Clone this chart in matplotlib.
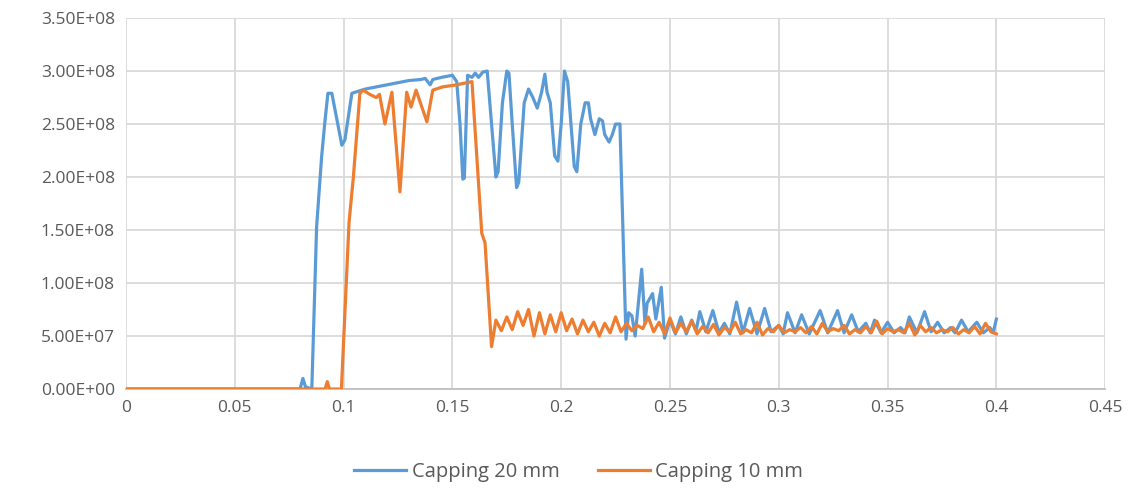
import numpy as np
import matplotlib
matplotlib.use("Agg")
import matplotlib.pyplot as plt
from matplotlib.ticker import FuncFormatter, MultipleLocator

# time (s) and force values (x 1e7) for the two capping thicknesses
t_20mm = [
    0.0000, 0.0800, 0.0813, 0.0825, 0.0854, 0.0876, 0.0899, 0.0914, 0.0928, 0.0946,
    0.0992, 0.1006, 0.1038, 0.1100, 0.1150, 0.1200, 0.1250, 0.1300, 0.1355, 0.1375,
    0.1398, 0.1410, 0.1450, 0.1500, 0.1520, 0.1535, 0.1548, 0.1555, 0.1570, 0.1590,
    0.1605, 0.1620, 0.1640, 0.1660, 0.1680, 0.1700, 0.1710, 0.1730, 0.1750, 0.1760,
    0.1775, 0.1795, 0.1805, 0.1830, 0.1850, 0.1870, 0.1890, 0.1910, 0.1925, 0.1935,
    0.1950, 0.1970, 0.1985, 0.2000, 0.2015, 0.2030, 0.2060, 0.2072, 0.2090, 0.2110,
    0.2125, 0.2135, 0.2155, 0.2175, 0.2190, 0.2200, 0.2220, 0.2235, 0.2250, 0.2270,
    0.2298, 0.2310, 0.2325, 0.2340, 0.2370, 0.2385, 0.2395, 0.2420, 0.2435, 0.2460,
    0.2475, 0.2500, 0.2525, 0.2550, 0.2575, 0.2600, 0.2620, 0.2637, 0.2665, 0.2697,
    0.2725, 0.2750, 0.2775, 0.2806, 0.2835, 0.2866, 0.2900, 0.2935, 0.2965, 0.3000,
    0.3020, 0.3040, 0.3075, 0.3105, 0.3140, 0.3190, 0.3225, 0.3270, 0.3300, 0.3335,
    0.3365, 0.3400, 0.3420, 0.3440, 0.3470, 0.3500, 0.3530, 0.3560, 0.3580, 0.3600,
    0.3635, 0.3670, 0.3700, 0.3730, 0.3760, 0.3790, 0.3810, 0.3840, 0.3870, 0.3910,
    0.3940, 0.3970, 0.3985, 0.4000,
]
f_20mm = [
    0.0, 0.0, 1.0, 0.2, 0.0, 15.3, 21.9, 25.2, 27.9, 27.9,
    23.0, 23.5, 27.9, 28.3, 28.5, 28.7, 28.9, 29.1, 29.2, 29.3,
    28.7, 29.2, 29.4, 29.6, 29.0, 25.0, 19.8, 19.9, 29.6, 29.4,
    29.8, 29.4, 29.9, 30.0, 25.0, 20.0, 20.5, 27.0, 30.0, 29.8,
    25.0, 19.0, 19.5, 27.0, 28.3, 27.5, 26.5, 28.0, 29.7, 28.0,
    27.0, 22.0, 21.5, 25.0, 30.0, 29.0, 21.0, 20.5, 25.0, 27.0,
    27.0, 25.5, 24.0, 25.5, 25.3, 24.0, 23.3, 24.0, 25.0, 25.0,
    4.7, 7.2, 6.9, 5.0, 11.3, 6.2, 8.1, 9.0, 6.6, 9.6,
    4.8, 6.5, 5.2, 6.8, 5.2, 6.5, 5.5, 7.3, 5.4, 7.4,
    5.3, 6.2, 5.2, 8.2, 5.3, 7.6, 5.2, 7.6, 5.4, 6.0,
    5.2, 7.2, 5.3, 7.0, 5.2, 7.4, 5.3, 7.4, 5.3, 7.0,
    5.4, 6.2, 5.3, 6.5, 5.3, 6.3, 5.3, 5.8, 5.3, 6.8,
    5.3, 7.3, 5.4, 6.3, 5.3, 5.8, 5.3, 6.5, 5.4, 6.3,
    5.3, 5.8, 5.3, 6.6,
]

t_10mm = [
    0.0000, 0.0915, 0.0925, 0.0935, 0.0990, 0.1025, 0.1045, 0.1075, 0.1090, 0.1120,
    0.1150, 0.1165, 0.1190, 0.1222, 0.1259, 0.1290, 0.1310, 0.1333, 0.1383, 0.1410,
    0.1455, 0.1520, 0.1590, 0.1635, 0.1650, 0.1680, 0.1700, 0.1725, 0.1750, 0.1775,
    0.1800, 0.1825, 0.1850, 0.1875, 0.1900, 0.1925, 0.1950, 0.1975, 0.2000, 0.2025,
    0.2050, 0.2075, 0.2100, 0.2125, 0.2150, 0.2175, 0.2200, 0.2225, 0.2250, 0.2275,
    0.2300, 0.2325, 0.2350, 0.2375, 0.2400, 0.2425, 0.2450, 0.2475, 0.2500, 0.2525,
    0.2550, 0.2575, 0.2600, 0.2625, 0.2650, 0.2675, 0.2700, 0.2725, 0.2750, 0.2775,
    0.2800, 0.2825, 0.2850, 0.2875, 0.2900, 0.2925, 0.2950, 0.2975, 0.3000, 0.3025,
    0.3050, 0.3075, 0.3100, 0.3125, 0.3150, 0.3175, 0.3200, 0.3225, 0.3250, 0.3275,
    0.3300, 0.3325, 0.3350, 0.3375, 0.3400, 0.3425, 0.3450, 0.3475, 0.3500, 0.3525,
    0.3550, 0.3575, 0.3600, 0.3625, 0.3650, 0.3675, 0.3700, 0.3725, 0.3750, 0.3775,
    0.3800, 0.3825, 0.3850, 0.3875, 0.3900, 0.3925, 0.3950, 0.3975, 0.4000,
]
f_10mm = [
    0.0, 0.0, 0.7, 0.0, 0.0, 15.7, 20.0, 27.9, 28.2, 27.8,
    27.5, 27.8, 25.0, 28.0, 18.6, 28.0, 26.6, 28.2, 25.2, 28.2,
    28.5, 28.7, 29.0, 14.7, 13.8, 4.0, 6.5, 5.5, 6.8, 5.6,
    7.3, 6.0, 7.5, 5.0, 7.2, 5.2, 7.0, 5.4, 7.2, 5.5,
    6.6, 5.2, 6.5, 5.4, 6.3, 5.0, 6.2, 5.3, 6.8, 5.4,
    6.2, 5.5, 6.0, 5.7, 6.8, 5.4, 6.3, 5.2, 6.7, 5.3,
    6.2, 5.4, 6.4, 5.2, 5.9, 5.3, 6.1, 5.1, 5.8, 5.4,
    6.3, 5.2, 5.6, 5.3, 6.3, 5.1, 5.7, 5.4, 6.0, 5.3,
    5.6, 5.4, 5.8, 5.3, 5.9, 5.2, 6.2, 5.4, 5.7, 5.5,
    6.0, 5.2, 5.6, 5.3, 5.9, 5.3, 6.4, 5.2, 5.7, 5.4,
    5.6, 5.3, 6.2, 5.1, 6.0, 5.4, 5.8, 5.3, 5.6, 5.4,
    5.8, 5.2, 5.6, 5.3, 5.9, 5.2, 6.2, 5.4, 5.2,
]

BLUE = "#5B9BD5"
ORANGE = "#ED7D31"
GREY_TXT = "#595959"
GRID = "#D9D9D9"

plt.rcParams["font.family"] = ["Open Sans", "DejaVu Sans"]

fig = plt.figure(figsize=(11.32, 4.91), dpi=100)
ax = fig.add_axes([0.1113, 0.2077, 0.8650, 0.7556])

ax.plot(t_20mm, np.array(f_20mm) * 1e7, color=BLUE, lw=2.3, label="Capping 20 mm",
        solid_joinstyle="round", zorder=3)
ax.plot(t_10mm, np.array(f_10mm) * 1e7, color=ORANGE, lw=2.3, label="Capping 10 mm",
        solid_joinstyle="round", zorder=4)

ax.set_xlim(0, 0.45)
ax.set_ylim(0, 3.5e8)
ax.xaxis.set_major_locator(MultipleLocator(0.05))
ax.yaxis.set_major_locator(MultipleLocator(5e7))
ax.xaxis.set_major_formatter(FuncFormatter(lambda v, p: f"{v:.2f}".rstrip("0").rstrip(".") if v else "0"))
ax.yaxis.set_major_formatter(FuncFormatter(lambda v, p: f"{v:.2E}"))

ax.grid(True, color=GRID, lw=1.3)
ax.set_axisbelow(True)
for side in ("top", "right", "left"):
    ax.spines[side].set_visible(False)
ax.spines["bottom"].set_color("#BFBFBF")
ax.spines["bottom"].set_linewidth(1.3)
ax.tick_params(length=0, labelsize=12.5, colors=GREY_TXT, pad=8)

fig.legend(loc="lower center", bbox_to_anchor=(0.511, -0.018), ncol=2, frameon=False,
           fontsize=14.5, labelcolor=GREY_TXT, handlelength=2.6, handletextpad=0.25,
           columnspacing=1.9)

fig.savefig("out.png", dpi=100)
